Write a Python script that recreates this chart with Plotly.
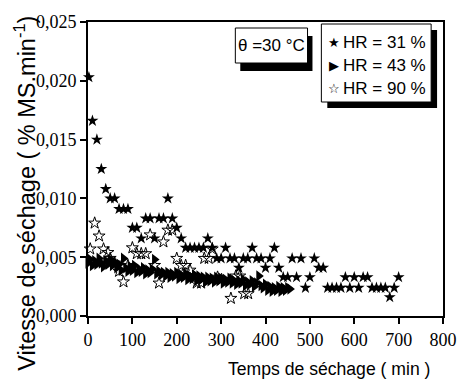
import plotly.graph_objects as go

# ---------------- data ----------------
hr31_t = [2, 10, 20, 30, 40, 50, 60, 70, 80, 90, 100, 110, 120, 130, 140, 150, 160, 170,
          180, 190, 200, 210, 220, 230, 240, 250, 260, 270, 280, 290, 300, 310, 320, 330,
          340, 350, 360, 370, 380, 390, 400, 410, 420, 430, 440, 450, 460, 470, 480, 490,
          500, 510, 520, 530, 540, 550, 560, 570, 580, 590, 600, 610, 620, 630, 640, 650,
          660, 670, 680, 690, 700]
hr31_v = [0.0203, 0.0166, 0.0150, 0.0125, 0.0108, 0.0100, 0.0100, 0.0091, 0.0091, 0.0091,
          0.0075, 0.0075, 0.0066, 0.0083, 0.0083, 0.0066, 0.0083, 0.0083, 0.0100, 0.0083,
          0.0075, 0.0066, 0.0058, 0.0058, 0.0058, 0.0058, 0.0058, 0.0066, 0.0058, 0.0049,
          0.0049, 0.0058, 0.0049, 0.0049, 0.0041, 0.0049, 0.0049, 0.0058, 0.0049, 0.0049,
          0.0041, 0.0049, 0.0058, 0.0041, 0.0033, 0.0033, 0.0049, 0.0033, 0.0049, 0.0024,
          0.0033, 0.0049, 0.0041, 0.0041, 0.0024, 0.0024, 0.0024, 0.0024, 0.0033, 0.0024,
          0.0033, 0.0024, 0.0033, 0.0033, 0.0024, 0.0024, 0.0024, 0.0024, 0.0016, 0.0024,
          0.0033]

hr43_t = [0, 5, 10, 15, 20, 25, 30, 35, 40, 45, 50, 55, 60, 65, 70, 75, 80, 85, 90, 95,
          100, 105, 110, 115, 120, 125, 130, 135, 140, 145, 150, 155, 160, 165, 170, 175,
          180, 185, 190, 195, 200, 205, 210, 215, 220, 225, 230, 235, 240, 245, 250, 255,
          260, 265, 270, 275, 280, 285, 290, 295, 300, 305, 310, 315, 320, 325, 330, 335,
          340, 345, 350, 355, 360, 365, 370, 375, 380, 385, 390, 395, 400, 405, 410, 415,
          420, 425, 430, 435, 440, 445, 450, 455]
hr43_v = [0.0045, 0.0048, 0.0043, 0.0047, 0.0044, 0.0049, 0.0045, 0.0042, 0.0047, 0.0044,
          0.0048, 0.0043, 0.0046, 0.0041, 0.0044, 0.0039, 0.0049, 0.0041, 0.0038, 0.0042,
          0.0039, 0.0043, 0.0037, 0.0040, 0.0038, 0.0041, 0.0036, 0.0039, 0.0037, 0.0040,
          0.0048, 0.0036, 0.0038, 0.0035, 0.0037, 0.0034, 0.0037, 0.0033, 0.0036, 0.0034,
          0.0037, 0.0032, 0.0035, 0.0033, 0.0036, 0.0031, 0.0034, 0.0032, 0.0035, 0.0030,
          0.0034, 0.0031, 0.0033, 0.0029, 0.0033, 0.0030, 0.0032, 0.0029, 0.0033, 0.0030,
          0.0032, 0.0028, 0.0031, 0.0029, 0.0032, 0.0028, 0.0030, 0.0027, 0.0030, 0.0028,
          0.0031, 0.0026, 0.0029, 0.0027, 0.0030, 0.0025, 0.0028, 0.0034, 0.0026, 0.0024,
          0.0027, 0.0022, 0.0025, 0.0021, 0.0024, 0.0022, 0.0025, 0.0021, 0.0024, 0.0022,
          0.0024, 0.0023]

hr90_t = [5, 15, 25, 35, 45, 50, 60, 70, 80, 90, 100, 110, 120, 130, 140, 150, 160, 170,
          180, 190, 200, 210, 220, 230, 245, 255, 262, 272, 280, 292, 301, 322, 333, 342,
          352, 361]
hr90_v = [0.0057, 0.0079, 0.0068, 0.0057, 0.0054, 0.0049, 0.0045, 0.0038, 0.0029, 0.0043,
          0.0058, 0.0053, 0.0053, 0.0053, 0.0069, 0.0043, 0.0028, 0.0063, 0.0073, 0.0073,
          0.0049, 0.0043, 0.0043, 0.0039, 0.0028, 0.0028, 0.0049, 0.0049, 0.0057, 0.0033,
          0.0031, 0.0015, 0.0034, 0.0034, 0.0019, 0.0019]

series_names = ["HR = 31 %", "HR = 43 %", "HR = 90 %"]
x_ticks = [0, 100, 200, 300, 400, 500, 600, 700, 800]
y_ticks = [0.000, 0.005, 0.010, 0.015, 0.020, 0.025]

# ---------------- layout constants (pixels) ----------------
W, H = 464, 379
L, R, T, B = 88, 447, 22, 316
R_MARGIN = 7  # rendered figure ends up ~10px narrower than requested


def px(p):
    return (p - L) / (R - L)


def py(p):
    return (B - p) / (B - T)


fig = go.Figure()
fig.add_trace(go.Scatter(x=hr43_t, y=hr43_v, mode="markers", name=series_names[1],
                         marker=dict(symbol="triangle-right", size=10, color="black"),
                         cliponaxis=False))
fig.add_trace(go.Scatter(x=hr90_t, y=hr90_v, mode="markers", name=series_names[2],
                         marker=dict(symbol="star-open", size=9, color="black",
                                     line=dict(width=1, color="black")),
                         cliponaxis=False))
fig.add_trace(go.Scatter(x=hr31_t, y=hr31_v, mode="markers", name=series_names[0],
                         marker=dict(symbol="star", size=9, color="black"),
                         cliponaxis=False))

tick_font = dict(family="Liberation Serif", size=18, color="black")
fig.update_layout(
    width=W, height=H, autosize=False,
    margin=dict(l=L, r=R_MARGIN, t=T, b=H - B, pad=0),
    paper_bgcolor="white", plot_bgcolor="white",
    separators=", ",
    showlegend=False,
    xaxis=dict(range=[0, 800], tickvals=x_ticks, ticks="outside", ticklen=6, tickwidth=2,
               tickcolor="black", showline=True, linecolor="black", linewidth=2,
               mirror=True, showgrid=False, zeroline=False, tickfont=tick_font,
               ticklabeloverflow="allow"),
    yaxis=dict(range=[0, 0.025], tickvals=y_ticks, tickformat=".3f", ticks="outside",
               ticklen=6, tickwidth=2, tickcolor="black", showline=True, linecolor="black",
               linewidth=2, mirror=True, showgrid=False, zeroline=False, tickfont=tick_font,
               ticklabeloverflow="allow"),
)

sans = "Liberation Sans"
# axis titles
fig.add_annotation(text="Temps de séchage ( min )", xref="paper", yref="paper",
                   x=px(332), y=py(369), xanchor="center", yanchor="middle",
                   showarrow=False, font=dict(family=sans, size=17.6, color="black"))
fig.add_annotation(text="Vitesse de séchage ( % MS.min<sup>-1</sup>)", xref="paper",
                   yref="paper", x=px(24), y=py(193), xanchor="center", yanchor="middle",
                   textangle=-90, showarrow=False,
                   font=dict(family=sans, size=23.5, color="black"))


# boxes with shadows
def box(x0, y0, x1, y1, dx, dy):
    fig.add_shape(type="rect", xref="paper", yref="paper", x0=px(x0 + dx), x1=px(x1 + dx),
                  y0=py(y0 + dy), y1=py(y1 + dy), fillcolor="black",
                  line=dict(width=0), layer="above")
    fig.add_shape(type="rect", xref="paper", yref="paper", x0=px(x0), x1=px(x1),
                  y0=py(y0), y1=py(y1), fillcolor="white",
                  line=dict(width=1, color="black"), layer="above")


box(237, 28, 310, 63, 5, 8)
box(324, 24, 435, 102, 6, 6)

fig.add_annotation(text="θ =30 °C", xref="paper", yref="paper", x=px(273.5), y=py(45.5),
                   xanchor="center", yanchor="middle", showarrow=False,
                   font=dict(family=sans, size=17, color="black"))

symbols = ["★", "▶", "☆"]
rows = [43, 65.5, 88]
for s, name, yy in zip(symbols, series_names, rows):
    fig.add_annotation(text=s, xref="paper", yref="paper", x=px(337), y=py(yy),
                       xanchor="center", yanchor="middle", showarrow=False,
                       font=dict(family="DejaVu Sans", size=13, color="black"))
    fig.add_annotation(text=name, xref="paper", yref="paper", x=px(344), y=py(yy),
                       xanchor="left", yanchor="middle", showarrow=False,
                       font=dict(family=sans, size=17, color="black"))

fig.write_html("out.html", config={"responsive": False})
